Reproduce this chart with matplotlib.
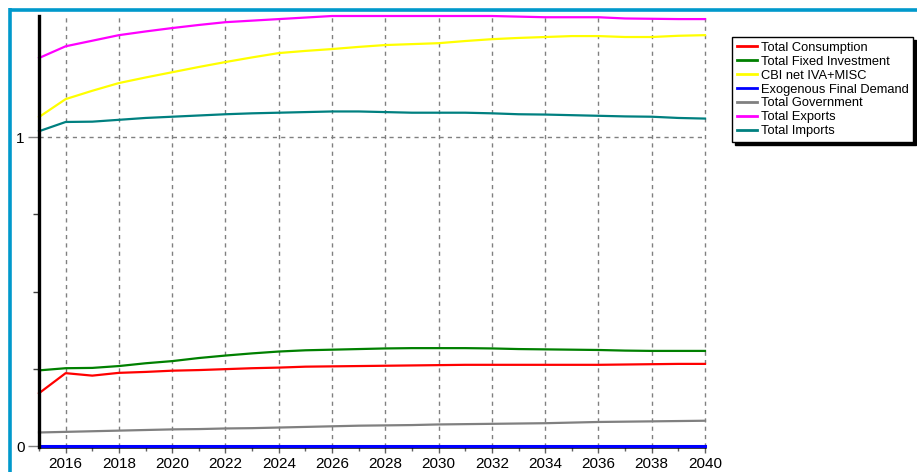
import matplotlib
matplotlib.use("Agg")
import matplotlib.pyplot as plt
from matplotlib.lines import Line2D
from matplotlib.ticker import MultipleLocator, FixedLocator

plt.rcParams['font.family'] = ['Liberation Sans', 'DejaVu Sans']

years = list(range(2015, 2041))

total_consumption = [0.171, 0.236, 0.228, 0.237, 0.240, 0.244, 0.246, 0.249, 0.252, 0.254,
                     0.257, 0.258, 0.259, 0.260, 0.261, 0.262, 0.263, 0.263, 0.263, 0.263,
                     0.263, 0.263, 0.264, 0.265, 0.266, 0.266]
total_fixed_investment = [0.245, 0.252, 0.253, 0.259, 0.268, 0.275, 0.285, 0.293, 0.300, 0.306,
                          0.310, 0.312, 0.314, 0.316, 0.317, 0.317, 0.317, 0.316, 0.314, 0.313,
                          0.312, 0.311, 0.309, 0.308, 0.308, 0.308]
cbi_net_iva_misc = [1.065, 1.123, 1.150, 1.175, 1.193, 1.210, 1.227, 1.243, 1.258, 1.272,
                    1.279, 1.285, 1.292, 1.298, 1.301, 1.304, 1.311, 1.317, 1.321, 1.324,
                    1.327, 1.327, 1.324, 1.324, 1.328, 1.330]
exogenous_final_demand = [0.0] * 26
total_government = [0.044, 0.046, 0.048, 0.050, 0.052, 0.054, 0.055, 0.057, 0.058, 0.060,
                    0.062, 0.064, 0.066, 0.067, 0.068, 0.070, 0.071, 0.072, 0.073, 0.074,
                    0.076, 0.078, 0.079, 0.080, 0.081, 0.082]
total_exports = [1.256, 1.294, 1.312, 1.330, 1.342, 1.353, 1.363, 1.372, 1.377, 1.382,
                 1.387, 1.392, 1.392, 1.392, 1.392, 1.392, 1.392, 1.392, 1.390, 1.388,
                 1.388, 1.388, 1.384, 1.383, 1.382, 1.382]
total_imports = [1.019, 1.049, 1.050, 1.056, 1.062, 1.066, 1.070, 1.074, 1.077, 1.079,
                 1.081, 1.083, 1.083, 1.081, 1.079, 1.079, 1.079, 1.077, 1.074, 1.073,
                 1.071, 1.069, 1.067, 1.066, 1.062, 1.060]

series = [
    ("Total Consumption", total_consumption, "#ff0000"),
    ("Total Fixed Investment", total_fixed_investment, "#008000"),
    ("CBI net IVA+MISC", cbi_net_iva_misc, "#ffff00"),
    ("Exogenous Final Demand", exogenous_final_demand, "#0000ff"),
    ("Total Government", total_government, "#808080"),
    ("Total Exports", total_exports, "#ff00ff"),
    ("Total Imports", total_imports, "#008080"),
]

W, H = 917, 472
fig = plt.figure(figsize=(W / 100, H / 100), dpi=100)
fig.patch.set_facecolor("white")

# window frame along the top and left edges
frame_col = "#0099cc"
fig.add_artist(Line2D([9.5 / W, 1.0], [1 - 9.5 / H, 1 - 9.5 / H], color=frame_col,
                      lw=2.6, solid_capstyle="butt"))
fig.add_artist(Line2D([9.5 / W, 9.5 / W], [0.0, 1 - 8 / H], color=frame_col,
                      lw=2.6, solid_capstyle="butt"))

ax = fig.add_axes([39 / W, 1 - 447 / H, (705 - 39) / W, (447 - 16) / H])
ax.set_xlim(2015, 2040)
ax.set_ylim(-0.003, 1.392)

# dashed grid at even years and at 1
grid_kw = dict(color="#808080", lw=1.0, linestyle=(0, (3, 3)), zorder=1)
for yr in range(2016, 2041, 2):
    ax.axvline(yr, ymax=1.005, clip_on=False, **grid_kw)
ax.axhline(1.0, **grid_kw)

for name, vals, col in series:
    lw = 2.2 if name == "Exogenous Final Demand" else 1.6
    ax.plot(years, vals, color=col, lw=lw, label=name, zorder=3, clip_on=False)

for side in ("top", "right"):
    ax.spines[side].set_visible(False)
ax.spines["left"].set_linewidth(2.4)
ax.spines["bottom"].set_linewidth(1.8)
ax.spines["left"].set_zorder(4)

ax.xaxis.set_major_locator(FixedLocator(list(range(2016, 2041, 2))))
ax.xaxis.set_minor_locator(MultipleLocator(1))
ax.yaxis.set_major_locator(FixedLocator([0, 1]))
ax.yaxis.set_minor_locator(FixedLocator([0.25, 0.5, 0.75]))
ax.tick_params(axis="x", which="major", length=4, width=1, color="#606060",
               labelsize=11, pad=3.2)
ax.tick_params(axis="x", which="minor", length=3, width=1, color="#606060")
ax.tick_params(axis="y", which="major", length=8, width=1, color="#808080",
               labelsize=11, pad=2.5)
ax.tick_params(axis="y", which="minor", length=4, width=1, color="#404040")
ax.set_yticklabels(["0", "1"])

leg = fig.legend(loc="upper left", bbox_to_anchor=(732 / W, 1 - 37 / H),
                 borderaxespad=0, fontsize=9.3, handlelength=1.55, handletextpad=0.35,
                 labelspacing=0.15, borderpad=0.35, fancybox=False,
                 shadow={"color": "black", "alpha": 1.0}, framealpha=1)
leg.get_frame().set_edgecolor("black")
leg.get_frame().set_linewidth(1.0)
for h in leg.legend_handles:
    h.set_linewidth(2.0)

fig.savefig("out.png", dpi=100, facecolor="white")
